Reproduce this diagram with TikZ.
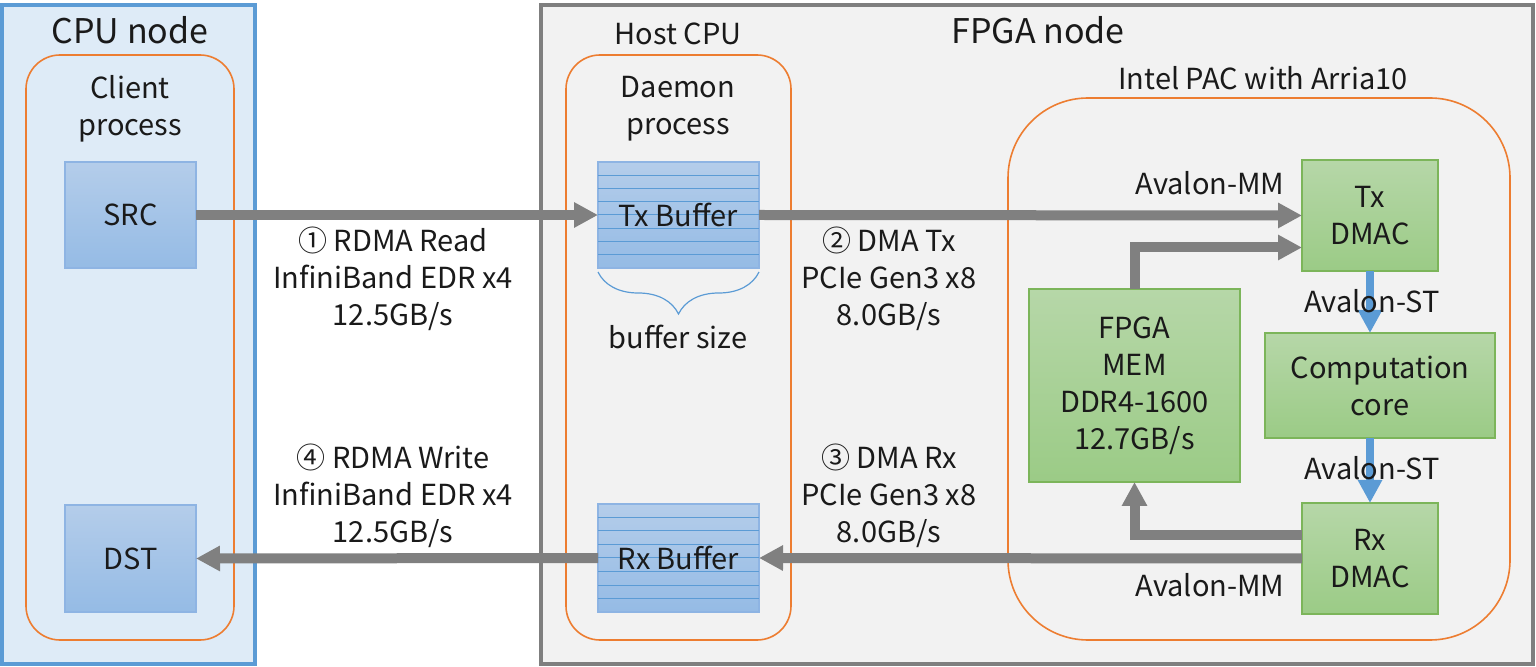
\documentclass[tikz,border=0pt]{standalone}
\usepackage{fontspec}
\setmainfont{Noto Sans CJK JP}
\usetikzlibrary{arrows.meta,decorations.pathreplacing}
\definecolor{cpuFill}{HTML}{DEEBF7}
\definecolor{cpuLine}{HTML}{5B9BD5}
\definecolor{fpgaFill}{HTML}{F2F2F2}
\definecolor{fpgaLine}{HTML}{7F7F7F}
\definecolor{orangeLine}{HTML}{ED7D31}
\definecolor{blueTop}{HTML}{B4CDEA}
\definecolor{blueBot}{HTML}{95BBE5}
\definecolor{blueEdge}{HTML}{8EB4E3}
\definecolor{greenTop}{HTML}{B6D7A8}
\definecolor{greenBot}{HTML}{9BCB86}
\definecolor{greenEdge}{HTML}{7CB55A}
\definecolor{arrowGray}{HTML}{808080}
\definecolor{txt}{HTML}{1A1A1A}
\begin{document}
\begin{tikzpicture}[x=0.5pt,y=-0.5pt,
  every node/.style={inner sep=0pt,outer sep=0pt,text=txt},
  body/.style={font=\fontsize{14.5}{18.5}\selectfont,align=center},
  title/.style={font=\fontsize{17}{20}\selectfont,align=center},
  container/.style={draw,line width=2pt},
  procbox/.style={draw=orangeLine,line width=0.8pt,rounded corners=17pt},
  bluebox/.style={draw=blueEdge,line width=0.6pt,top color=blueTop,bottom color=blueBot,body},
  greenbox/.style={draw=greenEdge,line width=0.6pt,top color=greenTop,bottom color=greenBot,body},
  stripe/.style={draw=cpuLine,line width=0.5pt},
  garrow/.style={draw=arrowGray,line width=5pt,-{Triangle[width=12pt,length=12pt]}},
  barrow/.style={draw=cpuLine,line width=4pt,-{Triangle[width=11.5pt,length=11.5pt]}},
  ]
\useasboundingbox (0,0) rectangle (1536,667);
\fill[white] (0,0) rectangle (1536,667);

% containers
\node[container,draw=cpuLine,fill=cpuFill,minimum width=126.5pt,minimum height=329.5pt] (cpu) at (128.5,334.5) {};
\node[container,draw=fpgaLine,fill=fpgaFill,minimum width=496pt,minimum height=329.5pt] (fpga) at (1037,334.5) {};
\node[procbox,minimum width=104pt,minimum height=292.5pt] (client) at (130,347.5) {};
\node[procbox,minimum width=112.5pt,minimum height=292.5pt] (daemon) at (678.5,347.5) {};
\node[procbox,rounded corners=40pt,minimum width=251pt,minimum height=271pt] (pac) at (1259,369) {};

% titles
\node[title] (cputitle) at (130,30) {CPU node};
\node[title] (fpgatitle) at (1038,30) {FPGA node};
\node[body] (hostcpu) at (678,34) {Host CPU};
\node[body] (pactitle) at (1263,78) {Intel PAC with Arria10};
\node[body] (clienttitle) at (130,108.5) {Client\\process};
\node[body] (daemontitle) at (678,108.5) {Daemon\\process};

% blue boxes
\node[bluebox,minimum width=65.5pt,minimum height=53pt] (src) at (130.5,215) {SRC};
\node[bluebox,minimum width=65.5pt,minimum height=53.5pt] (dst) at (130.5,558.5) {DST};
\node[bluebox,minimum width=80.5pt,minimum height=53pt] (txbuf) at (678.5,215) {};
\node[bluebox,minimum width=80.5pt,minimum height=54pt] (rxbuf) at (678.5,558) {};
\foreach \k in {1,...,7}{
  \draw[stripe] ([yshift=-\k*6.625pt]txbuf.north west) -- ([yshift=-\k*6.625pt]txbuf.north east);
  \draw[stripe] ([yshift=-\k*6.75pt]rxbuf.north west) -- ([yshift=-\k*6.75pt]rxbuf.north east);
}
\node[body] (txbuflabel) at (txbuf.center) {Tx Buffer};
\node[body] (rxbuflabel) at (rxbuf.center) {Rx Buffer};

% brace
\draw[draw=cpuLine,line width=0.6pt,decorate,decoration={brace,mirror,amplitude=21pt}]
  ([yshift=-2pt]txbuf.south west) -- ([yshift=-2pt]txbuf.south east);
\node[body] (bufsize) at (678,337) {buffer size};

% green boxes
\node[greenbox,minimum width=68pt,minimum height=55.5pt] (txdmac) at (1370,215.5) {Tx\\DMAC};
\node[greenbox,minimum width=68pt,minimum height=55.5pt] (rxdmac) at (1370,558.5) {Rx\\DMAC};
\node[greenbox,minimum width=115pt,minimum height=52.5pt] (comp) at (1380,385.5) {Computation\\core};
\node[greenbox,minimum width=105.5pt,minimum height=96.5pt] (mem) at (1134.5,385.5) {FPGA\\MEM\\DDR4-1600\\12.7GB/s};

% arrows
\draw[garrow] (src.east) -- (txbuf.west);
\draw[garrow] (txbuf.east) -- (txdmac.west);
\draw[garrow] (mem.north) |- ([yshift=-16pt]txdmac.west);
\draw[garrow] ([yshift=11.75pt]rxdmac.west) -| (mem.south);
\draw[garrow] (rxdmac.west) -- (rxbuf.east);
\draw[garrow] (rxbuf.west) -- (dst.east);
\draw[barrow] (txdmac.south) -- (txdmac.south |- comp.north);
\draw[barrow] (rxdmac.north |- comp.south) -- (rxdmac.north);

% labels
\node[body] (l1) at (393,279) {① RDMA Read\\InfiniBand EDR x4\\12.5GB/s};
\node[body] (l2) at (889,279) {② DMA Tx\\PCIe Gen3 x8\\8.0GB/s};
\node[body] (l4) at (393,496) {④ RDMA Write\\InfiniBand EDR x4\\12.5GB/s};
\node[body] (l3) at (889,496) {③ DMA Rx\\PCIe Gen3 x8\\8.0GB/s};
\node[body] (amm1) at (1210,183) {Avalon-MM};
\node[body] (amm2) at (1210,585) {Avalon-MM};
\node[body] (ast1) at (1372,301) {Avalon-ST};
\node[body] (ast2) at (1372,468) {Avalon-ST};
\end{tikzpicture}
\end{document}
